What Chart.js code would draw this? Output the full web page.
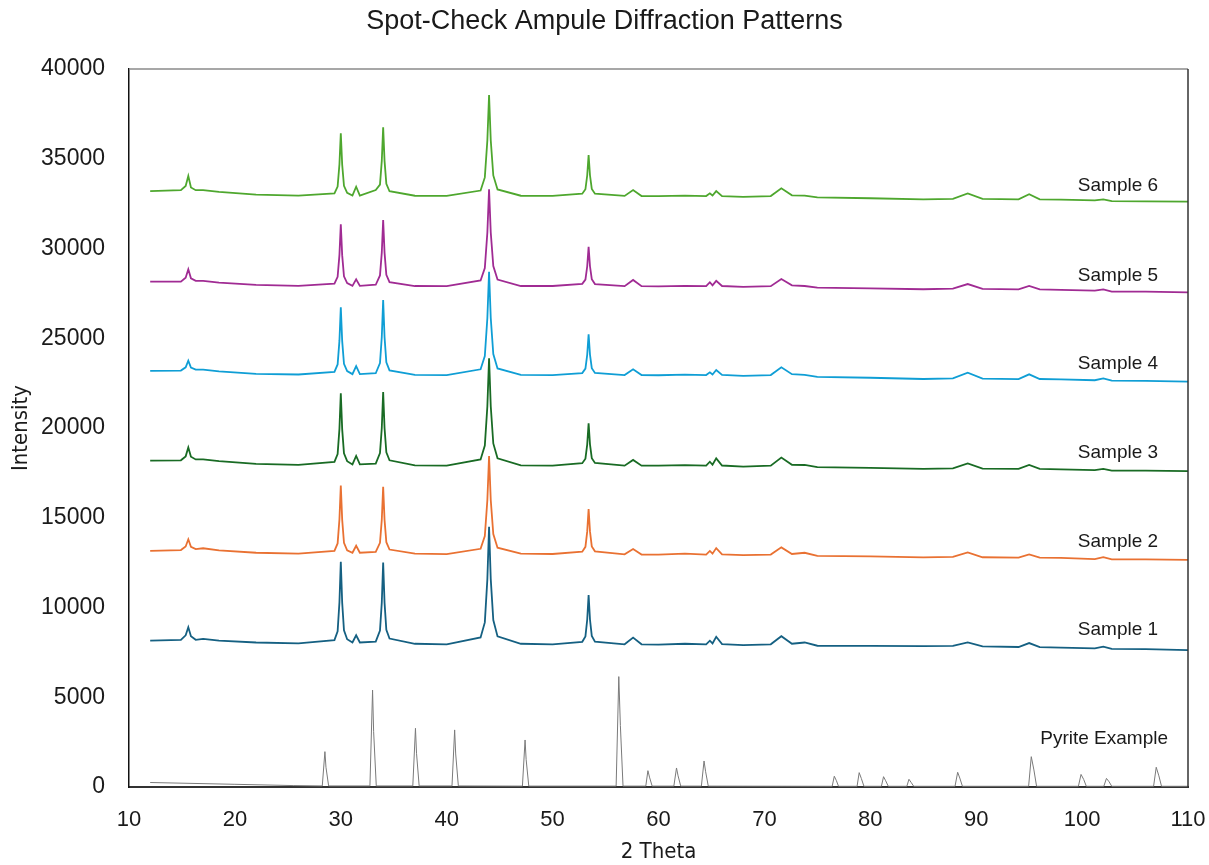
<!DOCTYPE html>
<html>
<head>
<meta charset="utf-8">
<title>Spot-Check Ampule Diffraction Patterns</title>
<script src="https://cdn.jsdelivr.net/npm/chart.js@4.4.1/dist/chart.umd.min.js"></script>
<style>
  body { margin: 0; background: #fff; }
  #grafico { display: block; }
</style>
</head>
<body>
<canvas id="grafico" width="1209" height="865"></canvas>
<script>
// eixo 2 theta compartilhado pelas amostras
var sampleTheta = [12.0, 14.9, 15.35, 15.6, 15.85, 16.3, 17.0, 18.5, 22.0, 26.0,
  29.4, 29.7, 29.87, 30.0, 30.13, 30.3, 30.6, 31.1, 31.45, 31.8,
  33.3, 33.7, 33.87, 34.0, 34.13, 34.3, 34.6, 37.0, 40.0, 43.2,
  43.6, 43.84, 44.0, 44.16, 44.4, 44.8, 47.0, 50.0, 52.8, 53.1,
  53.27, 53.4, 53.53, 53.7, 54.0, 56.8, 57.6, 58.4, 60.0, 62.5,
  64.5, 64.85, 65.1, 65.45, 66.0, 68.0, 70.6, 71.6, 72.6, 73.8,
  75.0, 80.0, 85.0, 87.8, 89.2, 90.6, 94.0, 95.0, 96.0, 98.0,
  101.2, 102.0, 102.8, 106.0, 110.0];

var sample1 = [8150, 8200, 8450, 8900, 8400, 8200, 8250, 8150, 8050, 8000,
  8180, 8680, 10280, 12550, 10280, 8730, 8230, 8050, 8450, 8050,
  8100, 8720, 10270, 12500, 10270, 8760, 8270, 7980, 7950, 8330,
  9170, 11580, 14500, 11580, 9300, 8390, 7980, 7950, 8090, 8390,
  9330, 10700, 9330, 8420, 8100, 7950, 8320, 7950, 7930, 7980,
  7950, 8150, 8000, 8370, 7960, 7900, 7950, 8400, 7980, 8050,
  7870, 7860, 7850, 7860, 8060, 7830, 7800, 8020, 7790, 7760,
  7720, 7820, 7700, 7680, 7630];

var sample2 = [13150, 13200, 13400, 13800, 13380, 13250, 13300, 13180, 13050, 13000,
  13150, 13570, 14900, 16790, 14900, 13600, 13190, 13050, 13440, 13050,
  13100, 13600, 14890, 16730, 14890, 13640, 13230, 13000, 12970, 13270,
  13980, 15990, 18440, 15990, 14090, 13330, 13000, 12980, 13110, 13380,
  14240, 15490, 14240, 13400, 13130, 12960, 13260, 12950, 12950, 13000,
  12950, 13150, 13000, 13310, 12960, 12920, 12950, 13350, 12980, 13050,
  12880, 12850, 12790, 12820, 13070, 12800, 12780, 12960, 12780, 12760,
  12700, 12800, 12680, 12680, 12650];

var sample3 = [18180, 18200, 18420, 18920, 18400, 18250, 18250, 18150, 18000, 17950,
  18110, 18550, 19940, 21930, 19940, 18590, 18150, 17970, 18440, 17970,
  18020, 18600, 20000, 22000, 20000, 18640, 18200, 17920, 17900, 18250,
  19020, 21210, 23880, 21210, 19140, 18310, 17920, 17900, 18040, 18290,
  19090, 20260, 19090, 18320, 18050, 17900, 18220, 17900, 17900, 17930,
  17900, 18120, 17950, 18310, 17910, 17850, 17900, 18350, 17950, 17940,
  17820, 17780, 17720, 17750, 18030, 17740, 17720, 17940, 17720, 17700,
  17650, 17720, 17620, 17620, 17600];

var sample4 = [23180, 23200, 23380, 23750, 23370, 23250, 23250, 23150, 23020, 22980,
  23130, 23540, 24850, 26720, 24850, 23580, 23170, 23000, 23450, 23000,
  23050, 23620, 25070, 27130, 25070, 23660, 23210, 22960, 22950, 23270,
  24010, 26130, 28700, 26130, 24120, 23320, 22960, 22950, 23060, 23310,
  24090, 25220, 24090, 23330, 23070, 22950, 23270, 22950, 22940, 22970,
  22950, 23100, 22980, 23230, 22960, 22900, 22950, 23380, 23000, 22960,
  22850, 22800, 22730, 22760, 23080, 22750, 22720, 22990, 22730, 22710,
  22660, 22760, 22640, 22630, 22580];

var sample5 = [28150, 28150, 28370, 28840, 28340, 28200, 28200, 28100, 27970, 27920,
  28040, 28420, 29630, 31350, 29630, 28450, 28070, 27920, 28280, 27920,
  27980, 28500, 29770, 31590, 29770, 28530, 28130, 27910, 27900, 28220,
  28910, 30890, 33300, 30890, 29020, 28270, 27910, 27910, 28030, 28270,
  29010, 30100, 29010, 28290, 28020, 27900, 28250, 27900, 27890, 27920,
  27900, 28120, 27950, 28200, 27910, 27860, 27900, 28300, 27950, 27910,
  27820, 27780, 27730, 27760, 28020, 27750, 27720, 27910, 27720, 27700,
  27650, 27720, 27600, 27600, 27560];

var sample6 = [33200, 33250, 33480, 34040, 33400, 33250, 33250, 33150, 33000, 32950,
  33070, 33450, 34680, 36420, 34680, 33490, 33100, 32950, 33440, 32950,
  33260, 33560, 34880, 36750, 34880, 33600, 33190, 32940, 32930, 33230,
  33960, 36030, 38550, 36030, 34070, 33290, 32940, 32930, 33050, 33300,
  34080, 35210, 34080, 33320, 33050, 32930, 33260, 32920, 32920, 32950,
  32920, 33070, 32950, 33200, 32920, 32880, 32920, 33350, 32960, 32950,
  32850, 32800, 32740, 32770, 33070, 32760, 32740, 33020, 32740, 32720,
  32680, 32740, 32640, 32630, 32610];

// padrão de referência (pirita)
var pyriteTheta = [12.0, 20.0, 25.5,
  28.25, 28.5, 28.6, 28.85, 32.75, 33.0, 33.1, 33.35,
  36.8, 37.05, 37.15, 37.4, 40.5, 40.75, 40.85, 41.1,
  47.15, 47.4, 47.5, 47.75, 56.0, 56.25, 56.4, 56.65,
  58.8, 59.0, 59.15, 59.4, 61.45, 61.7, 61.85, 62.1,
  64.05, 64.3, 64.45, 64.7, 76.4, 76.6, 76.8, 77.0,
  78.75, 78.95, 79.15, 79.4, 81.05, 81.25, 81.45, 81.7,
  83.45, 83.65, 83.85, 84.1, 88.0, 88.25, 88.45, 88.7,
  94.95, 95.2, 95.45, 95.7, 99.65, 99.9, 100.15, 100.4,
  102.05, 102.3, 102.55, 102.8, 106.75, 107.0, 107.25, 107.5, 110.0];

var pyriteCounts = [250, 150, 80,
  60, 1970, 1100, 60, 60, 5400, 3080, 60,
  60, 3270, 1880, 60, 60, 3180, 1840, 60,
  50, 2620, 1540, 50, 50, 6150, 3420, 50,
  50, 910, 550, 50, 50, 1060, 620, 50,
  50, 1450, 850, 50, 40, 600, 350, 40,
  40, 800, 480, 40, 40, 575, 350, 40,
  40, 430, 260, 40, 40, 820, 500, 40,
  40, 1690, 950, 40, 40, 700, 420, 40,
  40, 480, 290, 40, 40, 1100, 620, 40, 40];

var seriesNames = ["Sample 1", "Sample 2", "Sample 3", "Sample 4", "Sample 5", "Sample 6", "Pyrite Example"];
var seriesColors = ["#156082", "#E97132", "#196B24", "#0F9ED5", "#A02B93", "#4EA72E", "#7a7a7a"];

var xTicks = [10, 20, 30, 40, 50, 60, 70, 80, 90, 100, 110];
var yTicks = [0, 5000, 10000, 15000, 20000, 25000, 30000, 35000, 40000];

// rótulos ao lado das curvas (posição em 2 theta / intensidade)
var rotuloTheta = [99.6, 99.6, 99.6, 99.6, 99.6, 99.6, 96.05];
var rotuloIntensidade = [8750, 13650, 18600, 23570, 28470, 33480, 2670];

function montarPontos(xs, ys) {
  var pontos = [];
  for (var i = 0; i < xs.length; i++) {
    pontos.push({ x: xs[i], y: ys[i] });
  }
  return pontos;
}

var amostras = [sample1, sample2, sample3, sample4, sample5, sample6];
var conjuntos = [];

for (var i = 0; i < amostras.length; i++) {
  conjuntos.push({
    label: seriesNames[i],
    data: montarPontos(sampleTheta, amostras[i]),
    borderColor: seriesColors[i],
    borderWidth: 1.8,
    pointRadius: 0,
    tension: 0
  });
}

conjuntos.push({
  label: seriesNames[6],
  data: montarPontos(pyriteTheta, pyriteCounts),
  borderColor: seriesColors[6],
  borderWidth: 1,
  pointRadius: 0,
  tension: 0
});

var fonteTexto = "'Liberation Sans', Arial, sans-serif";
var fonteEstreita = "'Liberation Sans Narrow', 'DejaVu Sans Condensed', 'Liberation Sans', sans-serif";

// moldura, título e rótulos das amostras
var pluginExtras = {
  id: "extras",
  afterDraw: function (chart) {
    var ctx = chart.ctx;
    var area = chart.chartArea;
    var escalaX = chart.scales.x;
    var escalaY = chart.scales.y;

    ctx.save();
    ctx.strokeStyle = "#8a8a8a";
    ctx.lineWidth = 1.5;
    ctx.beginPath();
    ctx.moveTo(area.left, area.top);
    ctx.lineTo(area.right, area.top);
    ctx.stroke();

    ctx.strokeStyle = "#333";
    ctx.beginPath();
    ctx.moveTo(area.right, area.top);
    ctx.lineTo(area.right, area.bottom);
    ctx.stroke();

    ctx.fillStyle = "#1a1a1a";
    ctx.font = "27px " + fonteTexto;
    ctx.textAlign = "center";
    ctx.textBaseline = "middle";
    ctx.fillText("Spot-Check Ampule Diffraction Patterns", chart.width / 2, 22);

    ctx.font = "19px " + fonteTexto;
    ctx.textAlign = "left";
    for (var i = 0; i < seriesNames.length; i++) {
      ctx.fillText(seriesNames[i],
        escalaX.getPixelForValue(rotuloTheta[i]),
        escalaY.getPixelForValue(rotuloIntensidade[i]));
    }
    ctx.restore();
  }
};

function semSeparador(valor) {
  return String(valor);
}

var contexto = document.getElementById("grafico").getContext("2d");
var grafico = new Chart(contexto, {
  type: "line",
  data: { datasets: conjuntos },
  options: {
    responsive: false,
    animation: false,
    layout: { padding: { top: 69, right: 21, left: 0, bottom: 0 } },
    plugins: {
      legend: { display: false },
      title: { display: false },
      tooltip: { enabled: false }
    },
    scales: {
      x: {
        type: "linear",
        min: 10,
        max: 110,
        afterBuildTicks: function (escala) {
          escala.ticks = xTicks.map(function (v) { return { value: v }; });
        },
        afterFit: function (escala) {
          escala.height = 78;
          escala.paddingLeft = 0;
          escala.paddingRight = 0;
        },
        grid: { display: false, drawTicks: false },
        border: { display: true, color: "#333", width: 2 },
        ticks: { color: "#1a1a1a", font: { family: fonteTexto, size: 22 }, padding: 20, maxRotation: 0, callback: semSeparador },
        title: {
          display: true,
          text: "2 Theta",
          color: "#1a1a1a",
          font: { family: fonteEstreita, size: 22 },
          padding: { top: 0, bottom: 0 }
        }
      },
      y: {
        type: "linear",
        min: 0,
        max: 40000,
        afterBuildTicks: function (escala) {
          escala.ticks = yTicks.map(function (v) { return { value: v }; });
        },
        afterFit: function (escala) {
          escala.width = 129;
          escala.paddingTop = 0;
          escala.paddingBottom = 0;
        },
        grid: { display: false, drawTicks: false },
        border: { display: true, color: "#111", width: 1.5 },
        ticks: { color: "#1a1a1a", font: { family: fonteTexto, size: 23 }, padding: 24, callback: semSeparador },
        title: {
          display: true,
          text: "Intensity",
          color: "#1a1a1a",
          font: { family: fonteEstreita, size: 22 },
          padding: { top: 8, bottom: 0 }
        }
      }
    }
  },
  plugins: [pluginExtras]
});
</script>
</body>
</html>
